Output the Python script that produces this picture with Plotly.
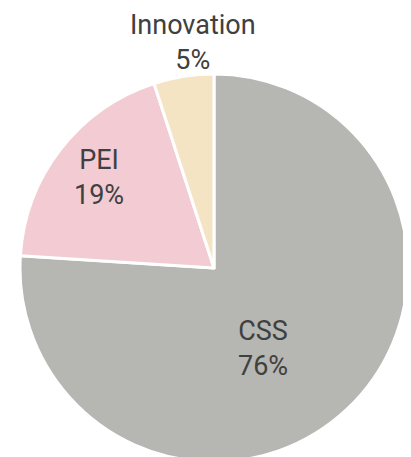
import plotly.graph_objects as go

labels = ["CSS", "PEI", "Innovation"]
values = [76, 19, 5]
colors = ["#b6b6b2", "#f2cbd3", "#f4e4c4"]

W, H = 411, 457
OFF = 8  # page body margin in the browser
ML, MT = 12, 66
PW = PH = 388
MR, MB = W - ML - PW, H - MT - PH

# label centre positions in screen pixels (layout only)
label_px = [(263, 348), (99, 178), (193, 42)]

total = sum(values)
fig = go.Figure(go.Pie(
    labels=labels,
    values=values,
    sort=False,
    direction="clockwise",
    rotation=0,
    marker=dict(colors=colors, line=dict(color="white", width=3)),
    textinfo="none",
    showlegend=False,
    hoverinfo="label+percent",
))

for lab, val, (px, py) in zip(labels, values, label_px):
    fig.add_annotation(
        x=(px - OFF - ML) / PW,
        y=1 - (py - OFF - MT) / PH,
        xref="paper", yref="paper",
        xanchor="center", yanchor="middle",
        text=f"{lab}<br>{round(100 * val / total)}%",
        showarrow=False,
        font=dict(family="Roboto, Arial, sans-serif", size=27, color="#404040"),
    )

fig.update_layout(
    width=W,
    height=H,
    margin=dict(l=ML, r=MR, t=MT, b=MB),
    paper_bgcolor="white",
    plot_bgcolor="white",
)

fig.write_html("out.html")
